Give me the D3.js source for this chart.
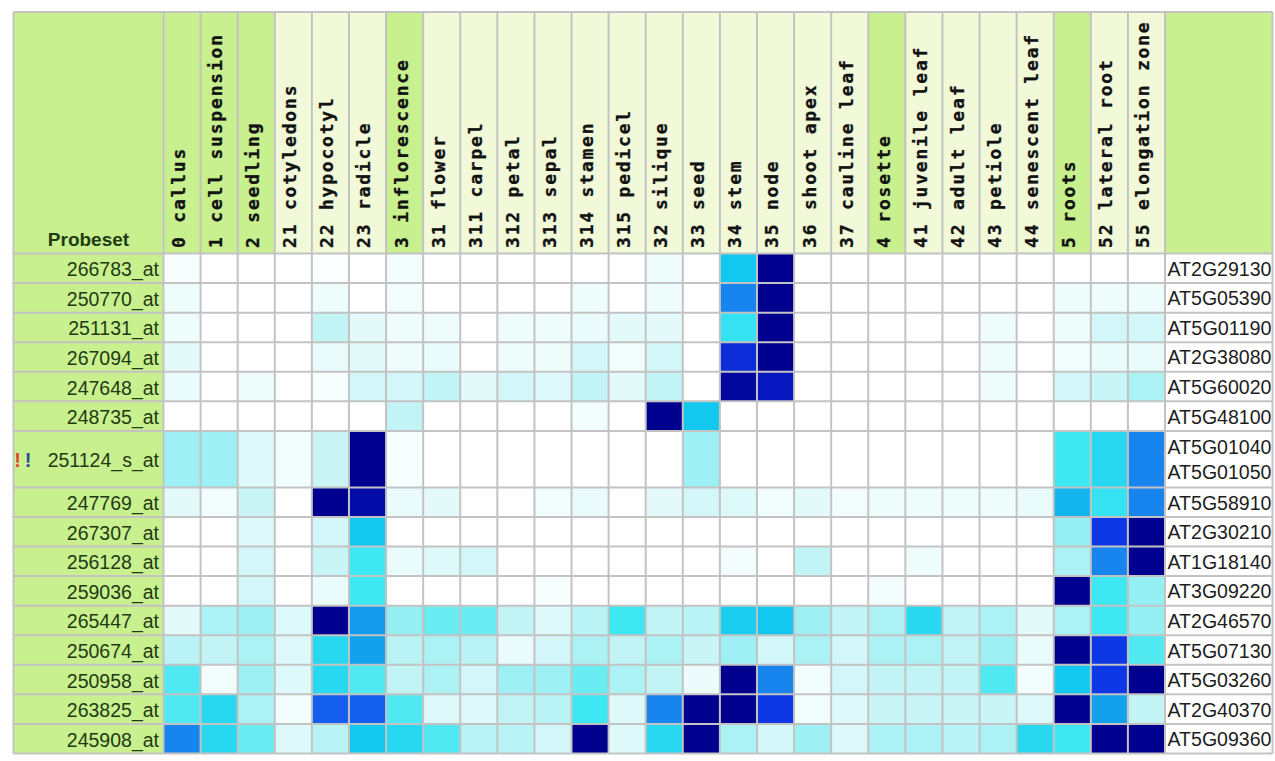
<!DOCTYPE html>
<html>
<head>
<meta charset="utf-8">
<script src="https://cdn.jsdelivr.net/npm/d3@7"></script>
<style>
  html, body { margin: 0; padding: 0; background: #ffffff; }
  svg { display: block; }
</style>
</head>
<body>
<svg id="chart" width="1275" height="761"></svg>
<script>
// Tissue columns (code + name); single-digit codes are the top-level organs
const tissues = [
  "0 callus", "1 cell suspension", "2 seedling", "21 cotyledons", "22 hypocotyl",
  "23 radicle", "3 inflorescence", "31 flower", "311 carpel", "312 petal",
  "313 sepal", "314 stamen", "315 pedicel", "32 silique", "33 seed",
  "34 stem", "35 node", "36 shoot apex", "37 cauline leaf", "4 rosette",
  "41 juvenile leaf", "42 adult leaf", "43 petiole", "44 senescent leaf",
  "5 roots", "52 lateral root", "55 elongation zone"
];

// Probesets (rows)
const probesets = [
  "266783_at", "250770_at", "251131_at", "267094_at", "247648_at", "248735_at",
  "251124_s_at", "247769_at", "267307_at", "256128_at", "259036_at", "265447_at",
  "250674_at", "250958_at", "263825_at", "245908_at"
];

// AGI gene codes matched by each probeset
const genes = [
  ["AT2G29130"], ["AT5G05390"], ["AT5G01190"], ["AT2G38080"], ["AT5G60020"],
  ["AT5G48100"], ["AT5G01040", "AT5G01050"], ["AT5G58910"], ["AT2G30210"],
  ["AT1G18140"], ["AT3G09220"], ["AT2G46570"], ["AT5G07130"], ["AT5G03260"],
  ["AT2G40370"], ["AT5G09360"]
];

// Warning marks for probesets that hit more than one gene
const flags = ["", "", "", "", "", "", "!!", "", "", "", "", "", "", "", "", ""];

// Relative expression per probeset (0 = lowest, 1 = highest), one value per tissue
const expression = [
  [0.03,0,0,0,0.02,0,0.05, 0,0,0,0,0,0,0.06,0,0.5,1, 0,0, 0,0,0,0,0,0,0,0],
  [0.06,0,0,0,0.06,0,0.05, 0,0,0,0,0.06,0,0.06,0,0.68,1, 0,0, 0,0,0,0,0,0.06,0.06,0.06],
  [0.06,0,0,0,0.2,0.1,0.06, 0.06,0,0.06,0.06,0.08,0.1,0.1,0,0.42,1, 0,0, 0,0,0,0.06,0,0.06,0.15,0.15],
  [0.1,0,0,0,0.08,0.1,0.06, 0.08,0,0.06,0.06,0.15,0.05,0.15,0,0.85,1, 0,0, 0,0,0,0.06,0,0.05,0.08,0.08],
  [0.08,0,0.06,0,0.03,0.15,0.15, 0.2,0.1,0.15,0.12,0.2,0.1,0.2,0,0.97,0.9, 0,0, 0,0,0,0.06,0,0.15,0.18,0.25],
  [0,0,0,0,0,0,0.2, 0,0,0,0,0.05,0,1,0.5,0,0, 0,0, 0,0,0,0,0,0,0,0],
  [0.28,0.28,0.12,0.05,0.18,1,0.03, 0,0,0,0,0,0,0,0.28,0,0, 0,0, 0,0,0,0,0,0.4,0.45,0.68],
  [0.1,0.05,0.18,0,1,0.95,0.08, 0.1,0,0,0.05,0.08,0,0.1,0.15,0.12,0.05, 0.1,0.04, 0.06,0.06,0.06,0.06,0.08,0.55,0.42,0.68],
  [0,0,0.12,0,0.15,0.5,0, 0,0,0,0,0,0,0,0,0,0, 0,0, 0,0,0,0,0,0.3,0.82,1],
  [0,0,0.15,0,0.18,0.4,0.08, 0.12,0.15,0,0,0,0,0,0,0.04,0, 0.2,0, 0,0.06,0,0,0,0.25,0.68,1],
  [0,0,0.15,0,0.08,0.4,0, 0,0,0,0.03,0,0,0,0,0,0, 0,0, 0.04,0,0,0,0,1,0.4,0.3],
  [0.1,0.25,0.28,0.12,1,0.62,0.3, 0.35,0.35,0.2,0.12,0.22,0.4,0.2,0.22,0.48,0.5, 0.28,0.2, 0.25,0.45,0.2,0.25,0.1,0.25,0.4,0.3],
  [0.22,0.2,0.25,0.12,0.45,0.6,0.22, 0.25,0.22,0.08,0.15,0.25,0.2,0.25,0.18,0.28,0.15, 0.25,0.15, 0.25,0.25,0.2,0.28,0.08,1,0.82,0.38],
  [0.38,0.05,0.28,0.12,0.45,0.38,0.2, 0.25,0.15,0.28,0.28,0.35,0.25,0.2,0.07,1,0.68, 0.05,0.15, 0.2,0.2,0.2,0.38,0.05,0.5,0.82,1],
  [0.38,0.45,0.25,0.05,0.75,0.75,0.38, 0.12,0.12,0.2,0.22,0.4,0.12,0.68,1,1,0.82, 0.05,0.12, 0.18,0.18,0.18,0.18,0.12,1,0.6,0.2],
  [0.68,0.45,0.35,0.12,0.22,0.5,0.45, 0.38,0.22,0.22,0.15,1,0.12,0.45,1,0.25,0.15, 0.28,0.12, 0.25,0.25,0.22,0.25,0.45,0.4,1,1]
];

// ---- layout ----
const tableLeft = 13.5, tableRight = 1272.5;
const tableTop = 12, headerBottom = 253.5, tableBottom = 753.5;
const gridLeft = 163.5, gridRight = 1165;
const extraLine = 0.91; // additional row height (in row units) per extra gene line

const svg = d3.select("#chart");

const x = d3.scaleBand().domain(tissues).range([gridLeft, gridRight]).paddingInner(0).paddingOuter(0);

// Row positions: rows with two gene codes are taller
const rowUnits = genes.map(g => 1 + (g.length - 1) * extraLine);
const rowStart = [];
rowUnits.reduce((acc, u, i) => { rowStart[i] = acc; return acc + u; }, 0);
const totalUnits = d3.sum(rowUnits);
const y = d3.scaleLinear().domain([0, totalUnits]).range([headerBottom, tableBottom]);
const rowTop = i => y(rowStart[i]);
const rowH = i => y(rowStart[i] + rowUnits[i]) - y(rowStart[i]);

const color = d3.scaleLinear()
  .domain([0, 0.1, 0.2, 0.3, 0.4, 0.5, 0.6, 0.7, 0.8, 0.9, 1])
  .range(["#ffffff", "#e4fafa", "#c2f4f6", "#96eff3", "#3ee8f2", "#12c8ee",
          "#12a2ec", "#1a7ef0", "#1040ee", "#0818c0", "#00008e"])
  .interpolate(d3.interpolateRgb)
  .clamp(true);

const GREEN = "#c8f08e", PALE = "#f1f9d9", GRID = "#c3c3c3";
const isTopLevel = t => t.split(" ")[0].length === 1;

// ---- header ----
svg.append("rect")
  .attr("x", tableLeft).attr("y", tableTop)
  .attr("width", gridLeft - tableLeft).attr("height", headerBottom - tableTop)
  .attr("fill", GREEN);

svg.append("g").selectAll("rect").data(tissues).join("rect")
  .attr("x", d => x(d)).attr("y", tableTop)
  .attr("width", x.bandwidth()).attr("height", headerBottom - tableTop)
  .attr("fill", d => isTopLevel(d) ? GREEN : PALE);

svg.append("rect")
  .attr("x", gridRight).attr("y", tableTop)
  .attr("width", tableRight - gridRight).attr("height", headerBottom - tableTop)
  .attr("fill", GREEN);

svg.append("text")
  .attr("x", (tableLeft + gridLeft) / 2).attr("y", 246)
  .attr("text-anchor", "middle")
  .attr("font-family", "Liberation Sans, Arial, sans-serif")
  .attr("font-weight", "bold").attr("font-size", 19)
  .attr("fill", "#1f3d12")
  .text("Probeset");

svg.append("g").selectAll("text").data(tissues).join("text")
  .attr("transform", d => `translate(${x(d) + 21.5},248) rotate(-90)`)
  .attr("font-family", "DejaVu Sans Mono, monospace")
  .attr("font-weight", "bold").attr("font-size", 18)
  .attr("letter-spacing", 1.8)
  .attr("fill", "#121212")
  .attr("stroke", "#121212").attr("stroke-width", 0.3)
  .text(d => d);

// ---- body ----
const rows = svg.append("g").selectAll("g").data(probesets).join("g");

rows.append("rect")
  .attr("x", tableLeft).attr("y", (d, i) => rowTop(i))
  .attr("width", gridLeft - tableLeft).attr("height", (d, i) => rowH(i))
  .attr("fill", GREEN);

rows.append("rect")
  .attr("x", gridRight).attr("y", (d, i) => rowTop(i))
  .attr("width", tableRight - gridRight).attr("height", (d, i) => rowH(i))
  .attr("fill", "#ffffff");

rows.each(function (d, i) {
  d3.select(this).selectAll("rect.cell").data(expression[i]).join("rect")
    .attr("class", "cell")
    .attr("x", (v, j) => x(tissues[j]))
    .attr("y", rowTop(i))
    .attr("width", x.bandwidth())
    .attr("height", rowH(i))
    .attr("fill", v => color(v));
});

rows.append("text")
  .attr("x", 159).attr("y", (d, i) => rowTop(i) + rowH(i) / 2 + 8)
  .attr("text-anchor", "end")
  .attr("font-family", "Liberation Sans, Arial, sans-serif")
  .attr("font-size", 19.5)
  .attr("fill", "#1f3a14")
  .text(d => d);

// warning marks
rows.filter((d, i) => flags[i] !== "").each(function (d) {
  const i = probesets.indexOf(d);
  const cy = rowTop(i) + rowH(i) / 2 + 7.5;
  const marks = flags[i].split("");
  d3.select(this).selectAll("text.flag").data(marks).join("text")
    .attr("class", "flag")
    .attr("x", (m, k) => 17.5 + k * 10.5).attr("y", cy)
    .attr("text-anchor", "middle")
    .attr("font-family", "Liberation Sans, Arial, sans-serif")
    .attr("font-weight", "bold").attr("font-size", 20)
    .attr("fill", (m, k) => k === 0 ? "#e0442a" : "#28509a")
    .text(m => m);
});

// gene codes
rows.each(function (d, i) {
  const g = genes[i];
  const cy = rowTop(i) + rowH(i) / 2;
  d3.select(this).selectAll("text.gene").data(g).join("text")
    .attr("class", "gene")
    .attr("x", 1167.5)
    .attr("y", (t, k) => cy + 7.5 + (k - (g.length - 1) / 2) * 25)
    .attr("font-family", "Liberation Sans, Arial, sans-serif")
    .attr("font-size", 19.5)
    .attr("textLength", 104).attr("lengthAdjust", "spacingAndGlyphs")
    .attr("fill", "#1e1e1e")
    .text(t => t);
});

// ---- grid lines ----
const grid = svg.append("g").attr("stroke", GRID).attr("stroke-width", 2);
const vLines = [tableLeft, gridLeft, ...tissues.slice(1).map(t => x(t)), gridRight, tableRight];
grid.selectAll("line.v").data(vLines).join("line")
  .attr("class", "v")
  .attr("x1", d => d).attr("x2", d => d)
  .attr("y1", tableTop).attr("y2", tableBottom);

const hLines = [tableTop, headerBottom, ...probesets.slice(1).map((d, i) => rowTop(i + 1)), tableBottom];
grid.selectAll("line.h").data(hLines).join("line")
  .attr("class", "h")
  .attr("x1", tableLeft).attr("x2", tableRight)
  .attr("y1", d => d).attr("y2", d => d);
</script>
</body>
</html>
